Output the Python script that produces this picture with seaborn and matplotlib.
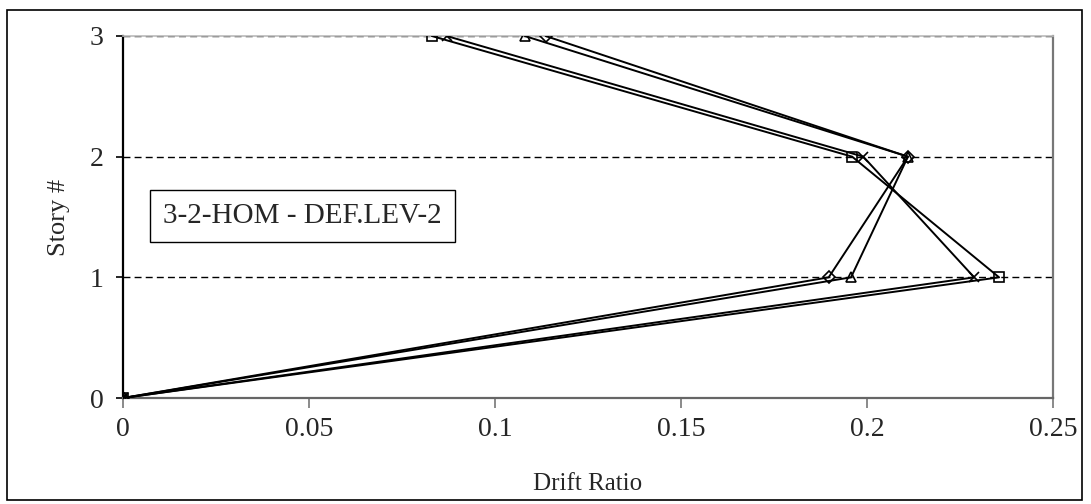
import pandas as pd
import matplotlib
matplotlib.use("Agg")
import matplotlib.pyplot as plt
import seaborn as sns
from matplotlib.patches import Rectangle

# Data (drift ratio per story, four records)
stories = [0, 1, 2, 3]
drift_square = [0.0, 0.2355, 0.196, 0.083]
drift_cross = [0.0, 0.2288, 0.199, 0.087]
drift_triangle = [0.0, 0.1957, 0.211, 0.108]
drift_diamond = [0.0, 0.1897, 0.211, 0.1136]
x_ticks = [0, 0.05, 0.1, 0.15, 0.2, 0.25]
x_tick_labels = ["0", "0.05", "0.1", "0.15", "0.2", "0.25"]
y_ticks = [0, 1, 2, 3]
box_text = "3-2-HOM - DEF.LEV-2"

series = {
    "square": (drift_square, "s"),
    "cross": (drift_cross, "x"),
    "triangle": (drift_triangle, "^"),
    "diamond": (drift_diamond, "D"),
}

sns.set_style("white")
plt.rcParams["font.family"] = ["Liberation Serif", "DejaVu Serif"]

fig = plt.figure(figsize=(10.91, 5.04), dpi=100)
ax = fig.add_axes([0.1127, 0.2103, 0.9652 - 0.1127, 0.9286 - 0.2103])

for name, (vals, mk) in series.items():
    df = pd.DataFrame({"drift": vals, "story": stories})
    sns.lineplot(data=df, x="drift", y="story", sort=False, estimator=None,
                 color="black", linewidth=1.4, marker=mk,
                 markersize=7.5 if mk != "D" else 6,
                 markerfacecolor="none", markeredgecolor="black",
                 markeredgewidth=1.2, ax=ax, zorder=3)

ax.set_xlim(0, 0.25)
ax.set_ylim(0, 3)
ax.set_xticks(x_ticks)
ax.set_xticklabels(x_tick_labels)
ax.set_yticks(y_ticks)
ax.tick_params(axis="x", direction="out", length=7, width=1.2, color="#777777",
               labelsize=20, pad=7, bottom=True)
ax.tick_params(axis="y", direction="out", length=5, width=1.2, color="black",
               labelsize=20, pad=9, left=True)

for y in [1, 2, 3]:
    ax.axhline(y, color="black", linestyle=(0, (5, 3)), linewidth=1.0, zorder=1)

ax.spines["left"].set_color("black")
ax.spines["left"].set_linewidth(1.6)
ax.spines["bottom"].set_color("#666666")
ax.spines["bottom"].set_linewidth(1.6)
ax.spines["right"].set_color("#777777")
ax.spines["right"].set_linewidth(1.6)
ax.spines["top"].set_color("#bbbbbb")
ax.spines["top"].set_linewidth(1.2)
for sp in ax.spines.values():
    sp.set_visible(True)

ax.set_xlabel("Drift Ratio", fontsize=18, labelpad=22)
ax.set_ylabel("Story #", fontsize=19, labelpad=14)

ax.text(0.0108, 1.51, box_text, fontsize=21, ha="left", va="center",
        bbox=dict(boxstyle="square,pad=0.45", facecolor="white",
                  edgecolor="black", linewidth=1.0), zorder=4)

# outer chart frame
fig.patches.append(Rectangle((7 / 1091, 4 / 504), 1075 / 1091, 490 / 504,
                             transform=fig.transFigure, fill=False,
                             edgecolor="black", linewidth=1.2))

fig.savefig("out.png", dpi=100)
